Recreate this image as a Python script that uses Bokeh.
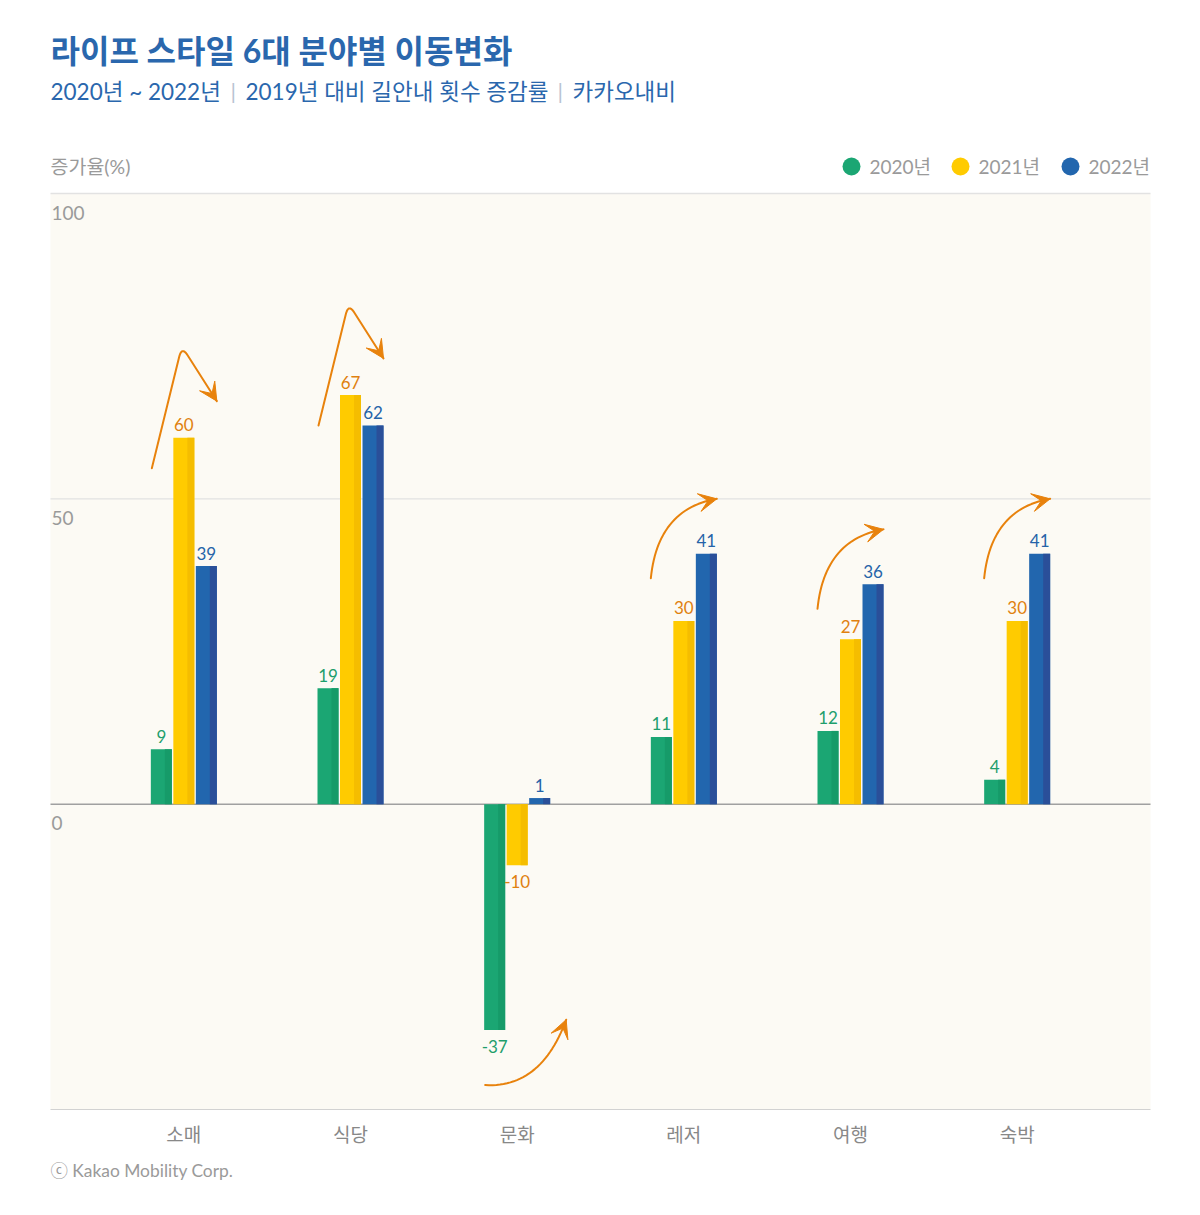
import numpy as np
from bokeh.plotting import figure
from bokeh.models import (ColumnDataSource, Label, Arrow, VeeHead, BoxAnnotation, Range1d)
from bokeh.core.properties import value
from bokeh.embed import file_html
from bokeh.resources import INLINE

# ---------------- data ----------------
categories = ["소매", "식당", "문화", "레저", "여행", "숙박"]
years = ["2020년", "2021년", "2022년"]
v2020 = [9, 19, -37, 11, 12, 4]
v2021 = [60, 67, -10, 30, 27, 30]
v2022 = [39, 62, 1, 41, 36, 41]
y_ticks = [100, 50, 0]
y_min, y_max = -50, 100
x_min, x_max = -0.8, 5.8

title = "라이프 스타일 6대 분야별 이동변화"
subtitle_parts = ["2020년 ~ 2022년", "2019년 대비 길안내 횟수 증감률", "카카오내비"]
y_title = "증가율(%)"
footer = "ⓒ Kakao Mobility Corp."

# ---------------- style ----------------
FONT = "Lato, Noto Sans CJK KR"
KFONT = "Noto Sans CJK KR"
bar_col = ["#1ba673", "#ffcb00", "#2266ae"]
bar_dark = ["#169b69", "#f5bd00", "#2a4f99"]
lab_col = ["#1e9e6c", "#e0810f", "#2563a8"]
arrow_col = "#e8820c"
title_col = "#2a67ad"
gray = "#9a9a9a"

W, H = 1200, 1215
# chart area in page pixels
CL, CR, CT, CB = 50, 1150, 193, 1109
XU = (CR - CL) / (x_max - x_min)       # px per x unit
YU = (CB - CT) / (y_max - y_min)       # px per y unit

p = figure(width=W, height=H,
           x_range=Range1d(x_min - CL / XU, x_max + (W - CR) / XU),
           y_range=Range1d(y_min - (H - CB) / YU, y_max + CT / YU),
           output_backend="svg", toolbar_location=None,
           x_axis_location=None, y_axis_location=None,
           min_border=0, min_border_left=0, min_border_right=0,
           min_border_top=0, min_border_bottom=0)
p.background_fill_color = "white"
p.border_fill_color = "white"
p.outline_line_color = None
p.xgrid.visible = False
p.ygrid.visible = False

def dx(page_x):
    return x_min + (page_x - CL) / XU

def dy(page_y):
    return y_max - (page_y - CT) / YU

# chart background
p.add_layout(BoxAnnotation(left=x_min, right=x_max, bottom=y_min, top=y_max,
                           fill_color="#fcfaf4", fill_alpha=1, line_color=None, level="underlay"))

# grid lines
grid_y = [y_min] + y_ticks
grid_c = ["#d2d2d2" if g == y_min else ("#a0a0a0" if g == 0 else "#e2e2e2") for g in grid_y]
grid_w = [1.2 if g == y_min else (1.5 if g == 0 else 1.3) for g in grid_y]
p.segment(x0=[x_min] * len(grid_y), x1=[x_max] * len(grid_y), y0=grid_y, y1=grid_y,
          line_color=grid_c, line_width=grid_w)

tick_src = ColumnDataSource(dict(x=[x_min] * len(y_ticks), y=y_ticks, t=[str(t) for t in y_ticks]))
p.text(x="x", y="y", text="t", source=tick_src, text_font=value("Lato"), text_font_size="19px",
       text_color=gray, text_align="left", text_baseline="middle", x_offset=1, y_offset=19)

# category labels
idx = np.arange(len(categories))
cat_src = ColumnDataSource(dict(x=idx, y=[y_min] * len(categories), t=categories))
p.text(x="x", y="y", text="t", source=cat_src, text_font=value(KFONT), text_font_size="19px",
       text_color="#888888", text_align="center", text_baseline="middle", y_offset=24)

# bars
off = 22.5 / XU
bw = 21 / XU
sw = 7 / XU
series = [v2020, v2021, v2022]
for k, vals in enumerate(series):
    xs = idx + (k - 1) * off
    p.vbar(x=xs, top=vals, bottom=0, width=bw, fill_color=bar_col[k], line_color=None)
    p.vbar(x=xs + (bw / 2 - sw / 2), top=vals, bottom=0, width=sw, fill_color=bar_dark[k], line_color=None)
    vals_arr = np.array(vals, dtype=float)
    src = ColumnDataSource(dict(x=xs, y=vals_arr, t=[str(v) for v in vals],
                                yo=np.where(vals_arr >= 0, -13, 16)))
    p.text(x="x", y="y", text="t", source=src, y_offset="yo", text_font=value("Lato"),
           text_font_size="17px", text_color=lab_col[k], text_align="center", text_baseline="middle")

# trend arrows (anchored to the data values)
def to_px(x, y):
    return np.array([x * XU, y * YU])

def quad(a, c, b, n=30):
    t = np.linspace(0, 1, n)[:, None]
    return (1 - t) ** 2 * a + 2 * (1 - t) * t * c + t ** 2 * b

def draw_path(pts):
    xs = pts[:, 0] / XU
    ys = pts[:, 1] / YU
    p.line(xs, ys, line_color=arrow_col, line_width=2, line_join="round", line_cap="round")
    tip = pts[-1]
    d = pts[-1] - pts[-3]
    d = d / np.hypot(*d)
    back = tip - d * 6
    p.add_layout(Arrow(end=VeeHead(size=18, fill_color=arrow_col, line_color=arrow_col, line_width=1),
                       x_start=back[0] / XU, y_start=back[1] / YU, x_end=tip[0] / XU, y_end=tip[1] / YU,
                       line_color=arrow_col, line_width=2))

for i in idx:
    a0, a1, a2 = v2020[i], v2021[i], v2022[i]
    if a2 < a1:
        S = to_px(i - 32 / XU, a1 - 5)
        P = to_px(i - 2 / XU, a1 + 15)
        E = to_px(i + 33 / XU, a1 + 6)
        A = P + (S - P) / np.hypot(*(S - P)) * 11
        B = P + (E - P) / np.hypot(*(E - P)) * 11
        pts = np.vstack([S, quad(A, P, B, 14), E - (E - B) * 0.02, E])
        draw_path(pts)
    elif a0 < 0:
        S = to_px(i - 32 / XU, a0 - 9)
        E = to_px(i + 49 / XU, a0 + 1.7)
        C = to_px(i + 24 / XU, a0 - 9.5)
        draw_path(quad(S, C, E))
    else:
        S = to_px(i - 33 / XU, a2 - 4)
        E = to_px(i + 33 / XU, a2 + 9)
        C = S + np.array([7, 0]) + np.array([0, E[1] - S[1] - 10])
        draw_path(quad(S, C, E))

# titles, legend and notes (placed in page pixels)
def label(px_, py_, text, **kw):
    p.add_layout(Label(x=dx(px_), y=dy(py_), text=text, text_baseline="middle", **kw))

label(50, 50, title, text_font=FONT, text_font_style="bold", text_font_size="32px", text_color=title_col)
for px_, part in zip([50, 245, 572], subtitle_parts):
    label(px_, 91, part, text_font=FONT, text_font_size="22.5px", text_color=title_col)
for px_ in [230, 557]:
    label(px_, 90, "|", text_font="Lato", text_font_size="22px", text_color="#b8c4d2")
label(50, 166, y_title, text_font=FONT, text_font_size="19.5px", text_color=gray)
label(50, 1170, footer, text_font=FONT, text_font_size="17.4px", text_color=gray)

# legend
leg_cx = [851, 960, 1070]
p.scatter(x=[dx(c) for c in leg_cx], y=[dy(166)] * 3, marker="circle", size=18,
          fill_color=bar_col, line_color=None)
for k, tx in enumerate([869, 978, 1088]):
    label(tx, 166, years[k], text_font=FONT, text_font_size="19px", text_color=gray)

open("out.html", "w").write(file_html(p, INLINE))
